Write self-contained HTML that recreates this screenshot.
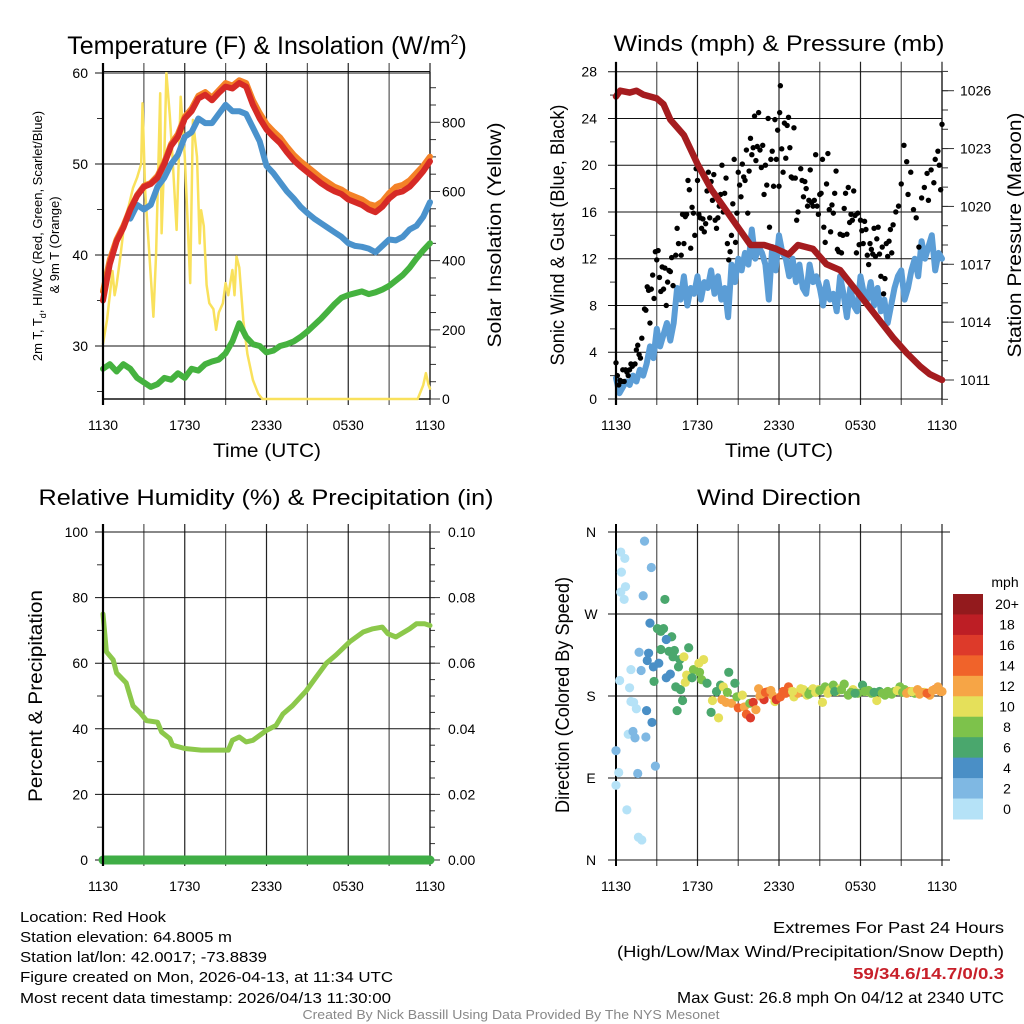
<!DOCTYPE html>
<html><head><meta charset="utf-8"><title>Red Hook Meteogram</title>
<style>
html,body{margin:0;padding:0;background:#fff;}
svg{display:block;font-family:"Liberation Sans",Arial,sans-serif;}
</style></head>
<body>
<svg id="chart" xmlns="http://www.w3.org/2000/svg" width="1024" height="1024" viewBox="0 0 1024 1024">
<rect x="0" y="0" width="1024" height="1024" fill="#fff"/>
<text x="267" y="54" font-size="25" text-anchor="middle">Temperature (F) &amp; Insolation (W/m<tspan font-size="14" dy="-10">2</tspan><tspan dy="10">)</tspan></text>
<text x="779" y="51" font-size="22" text-anchor="middle" textLength="331" lengthAdjust="spacingAndGlyphs">Winds (mph) &amp; Pressure (mb)</text>
<text x="266" y="505" font-size="22" text-anchor="middle" textLength="455" lengthAdjust="spacingAndGlyphs">Relative Humidity (%) &amp; Precipitation (in)</text>
<text x="779" y="505" font-size="22" text-anchor="middle" textLength="164" lengthAdjust="spacingAndGlyphs">Wind Direction</text>

<text x="267" y="457" font-size="19" text-anchor="middle" textLength="108" lengthAdjust="spacingAndGlyphs">Time (UTC)</text>
<text x="779" y="457" font-size="19" text-anchor="middle" textLength="108" lengthAdjust="spacingAndGlyphs">Time (UTC)</text>

<text transform="translate(42,236) rotate(-90)" font-size="13" text-anchor="middle">2m T, T<tspan font-size="9" dy="4">d</tspan><tspan dy="-4">, HI/WC (Red, Green, Scarlet/Blue)</tspan></text>
<text transform="translate(59,245) rotate(-90)" font-size="13" text-anchor="middle">&amp; 9m T (Orange)</text>
<text transform="translate(501,235) rotate(-90)" font-size="19" text-anchor="middle" textLength="225" lengthAdjust="spacingAndGlyphs">Solar Insolation (Yellow)</text>
<text transform="translate(564,235) rotate(-90)" font-size="19" text-anchor="middle" textLength="261" lengthAdjust="spacingAndGlyphs">Sonic Wind &amp; Gust (Blue, Black)</text>
<text transform="translate(1021,235) rotate(-90)" font-size="19" text-anchor="middle" textLength="245" lengthAdjust="spacingAndGlyphs">Station Pressure (Maroon)</text>
<text transform="translate(42,696) rotate(-90)" font-size="19" text-anchor="middle" textLength="212" lengthAdjust="spacingAndGlyphs">Percent &amp; Precipitation</text>
<text transform="translate(569,695) rotate(-90)" font-size="19" text-anchor="middle" textLength="236" lengthAdjust="spacingAndGlyphs">Direction (Colored By Speed)</text>

<g font-size="15">
<text x="20" y="922" textLength="146" lengthAdjust="spacingAndGlyphs">Location: Red Hook</text>
<text x="20" y="942" textLength="212" lengthAdjust="spacingAndGlyphs">Station elevation: 64.8005 m</text>
<text x="20" y="962" textLength="247" lengthAdjust="spacingAndGlyphs">Station lat/lon: 42.0017; -73.8839</text>
<text x="20" y="982" textLength="373" lengthAdjust="spacingAndGlyphs">Figure created on Mon, 2026-04-13, at 11:34 UTC</text>
<text x="20" y="1003" textLength="371" lengthAdjust="spacingAndGlyphs">Most recent data timestamp: 2026/04/13 11:30:00</text>
</g>
<g font-size="16" text-anchor="end">
<text x="1004" y="933" textLength="231" lengthAdjust="spacingAndGlyphs">Extremes For Past 24 Hours</text>
<text x="1004" y="957" textLength="387" lengthAdjust="spacingAndGlyphs">(High/Low/Max Wind/Precipitation/Snow Depth)</text>
<text x="1004" y="979" font-weight="bold" fill="#c8202a" textLength="151" lengthAdjust="spacingAndGlyphs">59/34.6/14.7/0/0.3</text>
<text x="1004" y="1003" textLength="327" lengthAdjust="spacingAndGlyphs">Max Gust: 26.8 mph On 04/12 at 2340 UTC</text>
</g>
<text x="511" y="1019" font-size="13" fill="#888" text-anchor="middle" textLength="417" lengthAdjust="spacingAndGlyphs">Created By Nick Bassill Using Data Provided By The NYS Mesonet</text>
</svg>
<script>
// ---- shared time axis ----
var xTickHours = [0, 3, 6, 9, 12, 15, 18, 21, 24];
var xTickLabels = ["1130", "", "1730", "", "2330", "", "0530", "", "1130"];

// ---- temperature panel data ----
var tempHours = [0,0.5,1,1.5,2,2.5,3,3.5,4,4.5,5,5.5,6,6.5,7,7.5,8,8.5,9,9.5,10,10.5,11,11.5,12,12.5,13,13.5,14,14.5,15,15.5,16,16.5,17,17.5,18,18.5,19,19.5,20,20.5,21,21.5,22,22.5,23,23.5,24];
var temp2m = [35,39,41.5,43,45,46.5,47.5,47.8,48.5,50,52,53,55,55.8,57.2,57.6,57,57.8,58.5,58.3,58.9,58.5,56.5,55,53.8,53,52.3,51.3,50.4,49.7,49.1,48.5,47.9,47.4,47,46.7,46.1,45.8,45.5,45,44.7,45.3,46.2,46.8,47,47.5,48.3,49.2,50.3];
var temp9m = [36,39.5,41.7,43.2,45.1,46.6,47.6,47.9,48.7,50.2,52.2,53.3,55.2,56.1,57.5,57.9,57.3,58.1,58.9,58.6,59.2,58.9,57,55.6,54.4,53.6,52.9,51.9,51,50.3,49.7,49.1,48.5,48,47.5,47.2,46.7,46.4,46.1,45.6,45.4,45.9,46.8,47.5,47.7,48.2,49,49.8,50.8];
var windChill = [null,null,null,null,44,45.5,45,45.5,47.5,48.5,50,51,53,53.5,55,54.5,54.5,55.5,56.5,55.8,55.8,55.5,54,52.5,49.8,49,48,47,46.2,45.3,44.6,44,43.5,43,42.5,42,41.3,41,40.9,40.7,40.3,41,41.7,41.6,42,42.8,43.2,44.2,45.8];
var dewPoint = [27.5,28,27.2,28,27.5,26.5,26,25.5,25.8,26.5,26.3,27,26.5,27.5,27.3,28,28.3,28.5,29.2,30.5,32.5,31,30.2,30,29.3,29.5,30,30.2,30.5,31,31.6,32.3,33,33.8,34.6,35.3,35.6,35.8,36,35.7,35.9,36.2,36.6,37.2,37.8,38.6,39.6,40.5,41.3];
var insHours = [0,0.3,0.5,0.7,0.85,1.0,1.3,1.6,1.9,2.2,2.5,2.8,2.9,3.1,3.4,3.7,3.9,4.2,4.3,4.5,4.65,4.9,5.1,5.4,5.7,6.0,6.2,6.4,6.6,6.9,7.1,7.2,7.4,7.6,7.8,8.1,8.3,8.5,8.8,9.0,9.2,9.5,9.65,9.8,10.0,10.3,10.6,11.0,11.4,11.7,23.1,23.5,23.7,23.9,24];
var insValues = [160,230,300,370,300,330,420,520,560,610,640,680,855,600,420,238,420,884,479,700,942,820,700,489,874,700,520,335,807,700,450,546,500,330,277,260,200,250,277,335,300,373,300,412,380,228,130,55,15,0,0,40,75,40,30];
var tempTicks = [30,40,50,60];
var tempMinorTicks = [25,35,45,55];
var insTicks = [0,200,400,600,800];

// ---- wind panel data ----
var windHours = [];
var sonicWind = [1.8,0.5,1.0,1.5,1.2,2.0,1.5,2.5,2.0,3.0,4.5,3.5,6.0,4.5,5.5,6.5,5.0,6.5,9.5,8.5,10.5,8.0,9.5,9.0,10.5,8.5,10.0,9.5,11.0,9.0,10.5,8.5,9.5,7.0,11.5,10.0,12.0,11.0,12.5,11.5,14.5,12.0,13.0,12.5,11.5,8.5,13.0,11.0,14.0,12.5,12.0,10.5,12.0,10.0,11.5,9.5,9.0,11.5,10.0,10.5,9.5,8.0,10.0,8.5,9.0,7.5,10.5,9.0,7.0,9.5,8.0,7.5,10.5,9.0,8.5,10.0,8.0,9.5,7.5,8.5,6.5,8.0,9.5,10.5,11.0,8.5,9.5,11.0,12.0,10.5,13.5,12.0,13.0,14.0,11.0,12.5,12.0];
for (var wi = 0; wi < sonicWind.length; wi++) windHours.push(wi * 0.25);
var gustHours = [0,0.1,0.2,0.3,0.4,0.5,0.6,0.7,0.8,0.9,1.0,1.1,1.2,1.4,1.5,1.6,1.7,1.8,1.9,2.1,2.2,2.3,2.4,2.5,2.6,2.7,2.8,2.9,3.0,3.1,3.2,3.3,3.4,3.5,3.6,3.7,3.8,3.9,4.0,4.1,4.2,4.4,4.5,4.6,4.8,4.9,5.0,5.1,5.2,5.3,5.4,5.5,5.6,5.7,5.8,5.9,6.0,6.1,6.2,6.3,6.4,6.5,6.6,6.7,6.8,6.9,7.0,7.1,7.2,7.3,7.4,7.5,7.6,7.7,7.8,7.9,8.0,8.1,8.2,8.3,8.4,8.5,8.6,8.7,8.8,8.9,9.0,9.1,9.2,9.3,9.4,9.5,9.6,9.7,9.8,9.9,10.0,10.1,10.2,10.3,10.4,10.5,10.6,10.7,10.8,10.9,11.0,11.1,11.2,11.3,11.4,11.5,11.6,11.7,11.8,11.9,12.0,12.05,12.1,12.2,12.3,12.4,12.5,12.6,12.7,12.8,12.9,13.0,13.1,13.2,13.3,13.4,13.6,13.7,13.8,13.9,14.0,14.1,14.2,14.3,14.4,14.5,14.6,14.7,14.8,14.9,15.0,15.1,15.2,15.3,15.4,15.5,15.6,15.7,15.8,15.9,16.0,16.1,16.2,16.3,16.4,16.5,16.6,16.7,16.8,16.9,17.0,17.1,17.2,17.3,17.4,17.5,17.6,17.7,17.8,17.9,18.0,18.1,18.2,18.3,18.4,18.5,18.6,18.7,18.8,18.9,19.0,19.1,19.2,19.3,19.4,19.5,19.6,19.7,19.8,19.9,20.0,20.1,20.2,20.3,20.4,20.6,20.8,21.0,21.2,21.4,21.5,21.7,21.9,22.1,22.3,22.5,22.7,22.9,23.0,23.2,23.4,23.5,23.7,23.8,23.9,24.0];
var gustValues = [3.1,2,1.2,1.6,1.5,2.5,1.5,2.5,2.3,2,2.5,3,2.8,3,4.2,4.6,3.8,3.5,5.2,7.7,7.6,9.6,9.3,6.5,9.4,10.6,8.6,12.6,11.9,12.7,10.4,9.2,11.3,9.4,11.2,8,10,11,10.9,12.1,9.7,12.3,14.6,13.3,12.3,15.8,13.3,15.6,15.8,18.7,17.9,12.9,16.4,15.9,14,19.7,18.7,15.8,15.5,14.6,15.4,14.3,15,17.8,19.4,15.5,18.6,17,19.2,15.3,14.6,15.5,16.5,17.5,20,16,17.6,18.9,13.3,11.9,12.6,14,16.7,20.5,13.4,15.9,19.4,18.3,17.3,20.1,19,18.7,21.3,15.9,19.5,22.3,20.9,21.5,24.2,20.4,21.6,24.5,21.3,19.8,21.7,17.5,20,18.3,24,14.7,20.5,21.2,18.2,23.9,20.5,23,18.2,24.5,26.8,21.4,19.4,23.6,20.6,23.4,24.1,21.5,19,18.9,23.2,18.9,15.3,16,19.7,18.7,17.3,18.6,18,16.5,17,19.6,16.8,16.5,17,20.9,16.5,15.8,17.5,17.6,20.5,14.7,13.4,18.4,21,16.2,14.3,16.6,15.9,17.6,19.5,12.8,12.6,14.1,12.5,14,16.3,17.6,14.1,18.1,15.1,15.8,15.3,17.8,15.7,12.5,15.9,13.2,15.3,14.4,13.3,15.2,14.5,12.3,11.5,13.3,12.8,12.4,14.6,12.2,13.7,14.7,12.4,10.5,13,9,10.3,13.3,12.2,13.5,14.5,12.5,14.9,16,16.5,18.4,21.7,20.3,17.5,19.4,16.2,15.5,13,17.2,18.1,19.3,17,19.6,18.5,20.5,21.2,20,17.9,23.5,24.8,23.9,21.2,24.2];
var presHours = [0,0.3,1,1.5,2,3,3.5,4,5,6,7,7.9,8.9,9.9,10.9,11.8,12.7,13.4,14.5,15.5,16.5,17.5,18.4,19.4,20.4,21.4,22.4,23.1,24];
var presValues = [1025.7,1026,1025.9,1026,1025.8,1025.6,1025.3,1024.5,1023.7,1022.2,1020.9,1020,1019,1018,1018,1017.8,1017.5,1018,1017.8,1017,1016.7,1015.8,1015,1014.1,1013.2,1012.4,1011.7,1011.3,1011];
var windTicks = [0,4,8,12,16,20,24,28];
var presTicks = [1011,1014,1017,1020,1023,1026];

// ---- RH panel data ----
var rhHours = [0,0.25,0.75,1,1.7,2.2,2.7,3.2,4,4.3,4.9,5.1,6,7.2,8.7,9.2,9.5,10,10.5,11,12,12.7,13.2,13.9,14.9,15.6,16.4,17.1,18.1,19.1,19.8,20.5,20.9,21.5,22.5,23,23.6,24];
var rhValues = [75,63.5,61,57,54,47,45,42.5,42,39,37,35,34,33.5,33.5,33.5,36.5,37.5,36,36.5,39.5,41,44.5,47,51.5,55.5,60,62.5,66.5,69.5,70.5,71,69,68,70.5,72,72,71.5];
var precipHours = [0,24];
var precipValues = [0,0];
var rhTicks = [0,20,40,60,80,100];
var precipTicks = [0,0.02,0.04,0.06,0.08,0.10];
var precipLabels = ["0.00","0.02","0.04","0.06","0.08","0.10"];

// ---- wind direction panel data ----
var dirHours = [0,0,0.2,0.35,0.65,0.4,0.35,0.7,0.6,0.27,1.1,1.0,1.1,1.3,1.5,0.9,1.25,1.4,0.8,1.6,1.65,1.9,2.1,2.6,2.0,2.5,1.7,1.85,2.4,2.3,2.75,3.15,2.8,2.25,2.65,2.2,2.9,3.6,3.05,3.5,3.3,4.1,3.7,3.3,3.9,4.3,4.2,4.0,3.7,4.4,4.75,4.7,4.6,4.9,4.5,5.0,5.35,5.2,5.1,5.7,6.15,6.1,6.45,6.3,6.7,5.6,7.0,7.1,7.4,7.7,7.9,7.55,7.8,8.1,8.2,8.3,8.5,8.75,8.9,9.0,9.3,9.45,9.6,9.9,9.85,10.1,10.3,10.5,10.6,10.9,11.2,11.5,11.7,11.8,12.1,12.3,12.7,12.9,13.1,13.4,13.8,14.05,14.3,14.5,14.9,15.2,15.4,15.75,16.0,16.25,16.5,16.8,17.1,17.45,17.8,18.15,18.45,18.8,19.2,19.4,19.8,20.15,20.5,20.9,21.25,21.6,22.0,22.35,22.7,23.1,23.45,23.7,24];
var dirDegrees = [120,82,96,338,331,316,294,300,286,197,209,189,174,173,166,138,141,134,55,95,25,22,350,321,290,260,228,208,227,219,212,216,196,164,151,135,103,286,254,254,251,245,242,231,229,230,223,204,200,190,187,220,212,175,164,223,233,203,195,209,206,216,220,198,194,200,162,175,185,192,190,156,176,173,184,206,172,194,179,167,181,168,160,156,172,173,165,188,180,176,185,181,174,176,179,185,190,185,179,183,187,181,185,188,187,173,190,187,192,185,188,193,181,187,183,192,185,183,175,185,181,183,185,190,187,185,183,182,184,181,187,190,185];
var dirSpeeds = [2,0,1,0,0,0,0,0,0,1,1,0,0,1,0,1,2,2,0,2,1,0,3,2,2,4,2,2,4,4,4,4,6,4,4,2,2,6,6,6,6,6,4,6,6,6,6,4,4,6,6,6,6,6,6,10,6,10,10,8,8,10,10,8,6,6,6,10,6,6,10,10,12,12,8,6,12,6,8,14,10,12,14,16,8,16,12,12,12,16,12,12,10,16,14,14,14,12,10,12,10,10,8,10,10,10,8,10,8,10,10,8,8,10,8,6,10,8,10,6,8,8,8,8,8,12,8,12,10,12,14,12,12];
var dirHours2 = [10.7,11.0,11.4,12.5,13.0,13.6,14.2,14.7,15.0,15.6,16.1,16.6,17.3,17.6,18.3,18.6,19.0,19.6,20.0,20.3,20.7,21.1,21.4,21.8,22.2,22.5,22.9,23.3,23.9];
var dirDegrees2 = [182,184,186,183,185,188,182,184,186,183,185,187,184,183,185,186,184,183,185,182,186,184,183,185,187,184,183,186,185];
var dirSpeeds2 = [12,14,12,14,10,10,8,10,8,10,6,8,8,6,8,8,6,8,8,8,10,8,12,10,12,12,14,12,12];
var dirTicks = [0,90,180,270,360];
var dirTickLabels = ["N","E","S","W","N"];
var speedBins = ["0","2","4","6","8","10","12","14","16","18","20+"];
var speedColors = ["#b5e2f7","#7fb8e3","#4a8fc6","#4aa76d","#7dc24b","#e5e05a","#f6a546","#f0632a","#dd3a2a","#bd1e25","#931a1d"];

// ---- drawing ----
var NS = "http://www.w3.org/2000/svg";
var svg = document.getElementById("chart");
function mk(tag, attrs, parent) {
  var e = document.createElementNS(NS, tag);
  for (var k in attrs) e.setAttribute(k, attrs[k]);
  (parent || svg).appendChild(e);
  return e;
}
function linScale(d0, d1, r0, r1) { return function (v) { return r0 + (v - d0) * (r1 - r0) / (d1 - d0); }; }
function pathFrom(xs, ys, xf, yf) {
  var d = "", pen = false;
  var n = Math.min(xs.length, ys.length);
  for (var i = 0; i < n; i++) {
    if (ys[i] === null) { pen = false; continue; }
    d += (pen ? "L" : "M") + xf(xs[i]).toFixed(1) + "," + yf(ys[i]).toFixed(1);
    pen = true;
  }
  return d;
}

function drawFrame(name, x0, x1, yTop, yBot, gridYs, extendTop) {
  var g = mk("g", {});
  
  
  var xs = linScale(0, 24, x0, x1);
  for (var i = 0; i < xTickHours.length; i++) {
    var x = xs(xTickHours[i]);
    var ln = mk("line", {x1: x, x2: x, y1: yTop - extendTop, y2: yBot + 6, stroke: (i % 2 ? "#555" : "#222"), "stroke-width": 1.2}, g);
    
    
  }
  for (var j = 0; j < gridYs.length; j++) {
    var hl = mk("line", {x1: x0 - 8, x2: x1, y1: gridYs[j], y2: gridYs[j], stroke: "#111", "stroke-width": 1}, g);
    
    
  }
  var lab = mk("g", {"font-size": 14, "text-anchor": "middle"});
  
  
  for (var k = 0; k < xTickHours.length; k++) {
    if (!xTickLabels[k]) continue;
    var t = mk("text", {x: xs(xTickHours[k]), y: yBot + 31}, lab);
    t.textContent = xTickLabels[k];
    
    
  }
  return xs;
}
function axisLabels(name, vals, labels, yf, x, anchor) {
  var g = mk("g", {"font-size": 14, "text-anchor": anchor});
  
  
  for (var i = 0; i < vals.length; i++) {
    var t = mk("text", {x: x, y: yf(vals[i]) + 5}, g);
    t.textContent = labels ? labels[i] : String(vals[i]);
    
    
  }
}
function tickMarks(vals, yf, x, len, w) {
  var g = mk("g", {});
  
  
  for (var i = 0; i < vals.length; i++) {
    var y = yf(vals[i]);
    var l = mk("line", {x1: x, x2: x + len, y1: y, y2: y, stroke: "#333", "stroke-width": w || 1}, g);
    
    
  }
}
function series(d, color, width, name, cap) {
  var p = mk("path", {d: d, fill: "none", stroke: color, "stroke-width": width, "stroke-linejoin": "round", "stroke-linecap": cap || "round"});
  
  
  return p;
}

// ===== Panel 1: Temperature =====
(function () {
  var x0 = 103, x1 = 430;
  var yT = linScale(30, 60, 346, 73);
  var yI = linScale(0, 800, 399, 122.3);
  var gridYs = tempTicks.map(yT);
  var xs = drawFrame("temp", x0, x1, 73, 399, gridYs, 10);
  var minors = [];
  for (var m = 50; m < 950; m += 50) if (m % 200) minors.push(m);
  tickMarks(minors, yI, x1, 6);
  tickMarks(insTicks, yI, x1, 10);
  tickMarks(tempMinorTicks, yT, x0 - 6, 6);
  mk("line", {x1: x0, x2: x1, y1: 71.5, y2: 71.5, stroke: "#111", "stroke-width": 1});
  mk("line", {x1: x0, x2: x1, y1: 399, y2: 399, stroke: "#111", "stroke-width": 1.5});
  mk("line", {x1: x1, x2: x1, y1: 72, y2: 399, stroke: "#111", "stroke-width": 1.2});
  series(pathFrom(insHours, insValues, xs, yI), "#f9e15c", 2.5, "insolation-line");
  series(pathFrom(tempHours, dewPoint, xs, yT), "#45b23f", 6, "dewpoint-line");
  series(pathFrom(tempHours, windChill, xs, yT), "#4a92cc", 6, "windchill-line");
  series(pathFrom(tempHours, temp9m, xs, yT), "#f48227", 6, "temp-9m-line");
  series(pathFrom(tempHours, temp2m, xs, yT), "#d62a26", 6, "temp-2m-line");
  mk("line", {x1: x0, x2: x0, y1: 63, y2: 405, stroke: "#000", "stroke-width": 2.2});
  axisLabels("temp-y-tick-labels", tempTicks, null, yT, 88, "end");
  axisLabels("insolation-tick-labels", insTicks, null, yI, 442, "start");
})();

// ===== Panel 2: Winds & Pressure =====
(function () {
  var x0 = 616, x1 = 942;
  var yW = linScale(0, 28, 399, 71.7);
  var yP = linScale(1011, 1026, 380, 90.7);
  var xs = drawFrame("wind", x0, x1, 71.7, 399, windTicks.map(yW), 10);
  var pm = [];
  for (var p = 1010; p <= 1027; p++) pm.push(p);
  tickMarks(pm, yP, x1, 6);
  tickMarks(presTicks, yP, x1, 12);
  var wm = [2,6,10,14,18,22,26];
  tickMarks(wm, yW, x0 - 6, 6);
  mk("line", {x1: x1, x2: x1, y1: 72, y2: 399, stroke: "#111", "stroke-width": 1.2});
  series(pathFrom(windHours, sonicWind, xs, yW), "#5b9dd6", 6, "sonic-wind-line");
  var g = mk("g", {fill: "#000"});
  
  
  var ng = Math.min(gustHours.length, gustValues.length);
  for (var i = 0; i < ng; i++) {
    var c = mk("circle", {cx: xs(gustHours[i]), cy: yW(gustValues[i]), r: 2.7}, g);
    
    
  }
  series(pathFrom(presHours, presValues, xs, yP), "#a51c1f", 6.5, "pressure-line");
  mk("line", {x1: x0, x2: x0, y1: 62, y2: 405, stroke: "#000", "stroke-width": 2.2});
  axisLabels("wind-y-tick-labels", windTicks, null, yW, 597, "end");
  axisLabels("pressure-tick-labels", presTicks, null, yP, 960, "start");
})();

// ===== Panel 3: RH & Precip =====
(function () {
  var x0 = 103, x1 = 430;
  var yR = linScale(0, 100, 860, 532);
  var yPr = linScale(0, 0.1, 860, 532);
  var xs = drawFrame("rh", x0, x1, 532, 860, rhTicks.map(yR), 8);
  tickMarks([10,30,50,70,90], yR, x0 - 6, 6);
  var pm = [];
  for (var q = 0; q <= 20; q++) pm.push(q * 0.005);
  tickMarks(pm, yPr, x1, 5);
  tickMarks(precipTicks, yPr, x1, 10);
  mk("line", {x1: x1, x2: x1, y1: 532, y2: 860, stroke: "#111", "stroke-width": 1.2});
  series(pathFrom(rhHours, rhValues, xs, yR), "#8cc84b", 5, "rh-line");
  series(pathFrom(precipHours, precipValues, xs, yPr), "#3fae46", 9, "precip-line");
  mk("line", {x1: x0, x2: x0, y1: 524, y2: 866, stroke: "#000", "stroke-width": 2.2});
  axisLabels("rh-y-tick-labels", rhTicks, null, yR, 88, "end");
  axisLabels("precip-tick-labels", precipTicks, precipLabels, yPr, 448, "start");
})();

// ===== Panel 4: Wind Direction =====
(function () {
  var x0 = 616, x1 = 942;
  var yD = linScale(0, 360, 860, 532);
  var xs = drawFrame("direction", x0, x1, 532, 860, dirTicks.map(yD), 8);
  mk("line", {x1: x0 - 8, x2: x1 + 8, y1: 532, y2: 532, stroke: "#111"});
  mk("line", {x1: x0 - 8, x2: x1 + 8, y1: 860, y2: 860, stroke: "#111"});
  mk("line", {x1: x0, x2: x0, y1: 524, y2: 866, stroke: "#000", "stroke-width": 2});
  var g = mk("g", {});
  
  
  function drawDirs(hs, ds, ss) {
    var n = Math.min(hs.length, ds.length, ss.length);
    for (var i = 0; i < n; i++) {
      var b = Math.min(10, Math.max(0, Math.floor(ss[i] / 2)));
      var c = mk("circle", {cx: xs(hs[i]), cy: yD(ds[i]), r: 4.6, fill: speedColors[b]}, g);
      
      
    }
  }
  drawDirs(dirHours, dirDegrees, dirSpeeds);
  drawDirs(dirHours2, dirDegrees2, dirSpeeds2);
  var lg = mk("g", {"font-size": 14, "text-anchor": "middle"});
  
  
  for (var k = 0; k < dirTicks.length; k++) {
    var t = mk("text", {x: 591, y: yD(dirTicks[k]) + 5}, lg);
    t.textContent = dirTickLabels[k];
    
    
  }
  var cb = mk("g", {});
  
  
  var unit = mk("text", {x: 1005, y: 587, "font-size": 14, "text-anchor": "middle"}, cb);
  unit.textContent = "mph";
  
  
  var boxH = 225 / speedBins.length;
  for (var s = 0; s < speedBins.length; s++) {
    var idx = speedBins.length - 1 - s;
    var y = 594 + s * boxH;
    var r = mk("rect", {x: 953, y: y, width: 30, height: boxH + 0.5, fill: speedColors[idx]}, cb);
    
    
    var lt = mk("text", {x: 1007, y: y + boxH / 2 + 5, "font-size": 14, "text-anchor": "middle"}, cb);
    lt.textContent = speedBins[idx];
    
    
  }
})();
</script>
</body></html>
